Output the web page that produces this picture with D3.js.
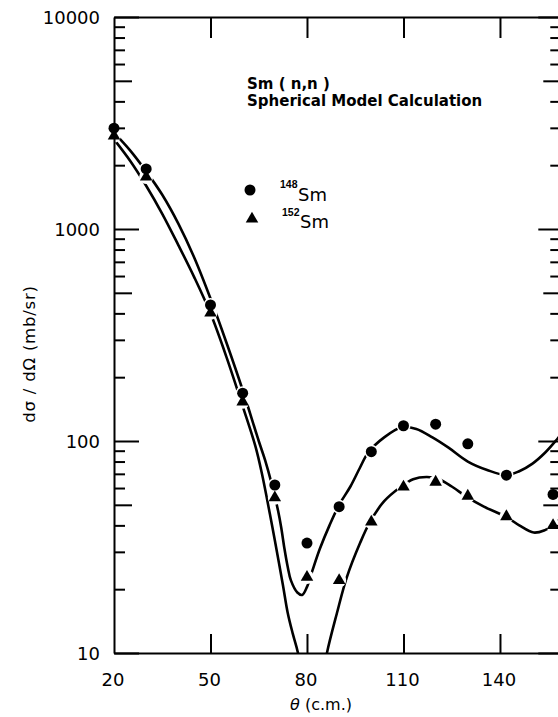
<!DOCTYPE html>
<html>
<head>
<meta charset="utf-8">
<script src="https://cdn.jsdelivr.net/npm/d3@7"></script>
<style>
  body { margin: 0; background: #fff; }
  svg { display: block; font-family: "DejaVu Sans", sans-serif; }
  .axis .domain, .axis line { stroke: #000; stroke-width: 2; }
</style>
</head>
<body>
<svg id="chart" width="558" height="717"></svg>
<script>
// measured points, 148Sm (circles) and 152Sm (triangles)
const thetaCircles = [20, 30, 50, 60, 70, 80, 90, 100, 110, 120, 130, 142, 156.5]
const valueCircles = [2990, 1920, 438, 168, 62, 33, 49, 89, 118, 120, 97, 69, 56]
const thetaTriangles = [20, 30, 50, 60, 70, 80, 90, 100, 110, 120, 130, 142, 156.5]
const valueTriangles = [2750, 1760, 402, 153, 54, 22.8, 22, 41.5, 60.7, 64, 55, 44, 40]

// spherical model curves
const theta148 = [20, 25, 30, 35, 40, 45, 50, 55, 60, 65, 67, 69, 71, 72, 73, 74, 75, 77, 78.5, 80, 81.5, 84, 87, 90, 93.5, 96.5, 99, 104, 109.5, 114, 119, 124, 130, 136, 142, 146, 150, 154, 158, 160]
const curve148 = [2850, 2350, 1870, 1450, 1060, 730, 470, 290, 174, 100, 81, 63, 47, 39, 31, 25.5, 22, 19.3, 18.8, 20.5, 24, 31, 40, 50, 61, 75, 88, 104, 116, 114, 104, 93, 80, 73, 69, 72, 78, 88, 103, 112]
const theta152 = [20, 25, 30, 35, 40, 45, 50, 55, 60, 64, 66, 68.5, 70, 72.5, 74, 75.6, 77.2, 79, 81.5, 84, 86.2, 89.3, 92.4, 96.5, 99.6, 104, 109, 113, 117.3, 121, 125, 129.7, 135, 142, 146, 150.5, 154, 156.5, 160]
const curve152 = [2650, 2100, 1600, 1180, 840, 590, 400, 248, 146, 94, 70, 45, 34, 21, 15.5, 12.3, 10, 6.5, 4, 6.5, 10, 15.4, 22.8, 33, 41.5, 52, 60.5, 66, 67.6, 66, 61, 54.5, 49, 43.8, 40, 37, 38, 40, 45]

const xTicks = [20, 50, 80, 110, 140]
const xTickLabels = ["20", "50", "80", "110", "140"]
const yTicks = [10, 100, 1000, 10000]
const yTickLabels = ["10", "100", "1000", "10000"]
const minorMultipliers = [2, 3, 4, 6, 7, 8, 9]

const svg = d3.select("#chart")
const x = d3.scaleLinear().domain([20, 160]).range([114, 564.3])
const y = d3.scaleLog().domain([10, 10000]).range([653, 17])

// curves
svg.append("clipPath").attr("id", "plot")
	.append("rect")
	.attr("x", x(20)).attr("y", y(10000))
	.attr("width", x(160) - x(20)).attr("height", y(10) - y(10000))

const line = d3.line().curve(d3.curveCatmullRom.alpha(0.5))
const curves = [
	theta148.map((t, i) => [x(t), y(curve148[i])]),
	theta152.map((t, i) => [x(t), y(curve152[i])])
]
svg.append("g").attr("clip-path", "url(#plot)")
	.selectAll("path").data(curves).join("path")
	.attr("d", line)
	.attr("fill", "none")
	.attr("stroke", "#000")
	.attr("stroke-width", 2.6)

// markers with white halo so the curves look broken around them
const pts = [
	...thetaCircles.map((t, i) => ({ t, v: valueCircles[i], s: "c" })),
	...thetaTriangles.map((t, i) => ({ t, v: valueTriangles[i], s: "t" }))
]
const mk = svg.append("g")
mk.selectAll("circle.halo").data(pts).join("circle")
	.attr("class", "halo")
	.attr("cx", d => x(d.t)).attr("cy", d => y(d.v))
	.attr("r", 7).attr("fill", "#fff")
mk.selectAll("circle.dot").data(pts.filter(d => d.s === "c")).join("circle")
	.attr("class", "dot")
	.attr("cx", d => x(d.t)).attr("cy", d => y(d.v))
	.attr("r", 5.5).attr("fill", "#000")
const tri = d3.symbol(d3.symbolTriangle, 68)
mk.selectAll("path.tri").data(pts.filter(d => d.s === "t")).join("path")
	.attr("class", "tri")
	.attr("transform", d => `translate(${x(d.t)},${y(d.v)})`)
	.attr("d", tri).attr("fill", "#000")

const decades = yTicks.slice(0, 3)
const minorTicks = decades.flatMap(d => minorMultipliers.map(m => d * m))
const fiveTicks = decades.map(d => d * 5)

// left and right axes: three tick lengths each, drawn over the markers
function yAxisSet(axisFn, xPos, sizes) {
	const g = svg.append("g").attr("class", "axis").attr("transform", `translate(${xPos},0)`)
	g.call(axisFn(y).tickValues(minorTicks).tickSize(sizes[0]).tickSizeOuter(0).tickFormat(""))
	const g2 = svg.append("g").attr("class", "axis").attr("transform", `translate(${xPos},0)`)
	g2.call(axisFn(y).tickValues(fiveTicks).tickSize(sizes[1]).tickSizeOuter(0).tickFormat(""))
	g2.select(".domain").remove()
	const g3 = svg.append("g").attr("class", "axis").attr("transform", `translate(${xPos},0)`)
	g3.call(axisFn(y).tickValues(yTicks).tickSize(sizes[2]).tickSizeOuter(0).tickFormat(""))
	g3.select(".domain").remove()
}
yAxisSet(d3.axisRight, x(20), [11, 18, 25])
yAxisSet(d3.axisLeft, x(160), [14, 21, 26])

svg.append("g").attr("class", "axis")
	.attr("transform", `translate(0,${y(10000)})`)
	.call(d3.axisBottom(x).tickValues(xTicks.slice(1)).tickSize(21).tickSizeOuter(0).tickFormat(""))
svg.append("g").attr("class", "axis")
	.attr("transform", `translate(0,${y(10)})`)
	.call(d3.axisTop(x).tickValues(xTicks.slice(1)).tickSize(19).tickSizeOuter(0).tickFormat(""))

// tick labels
svg.selectAll("text.ylab").data(yTicks).join("text")
	.attr("class", "ylab")
	.attr("x", 100)
	.attr("y", d => y(d) + 6.5)
	.attr("text-anchor", "end")
	.attr("font-size", 18)
	.text((d, i) => yTickLabels[i])
svg.selectAll("text.xlab").data(xTicks).join("text")
	.attr("class", "xlab")
	.attr("x", d => x(d) - 1)
	.attr("y", 686)
	.attr("text-anchor", "middle")
	.attr("font-size", 18)
	.text((d, i) => xTickLabels[i])

// axis titles
svg.append("text")
	.attr("transform", "translate(35,354) rotate(-90)")
	.attr("text-anchor", "middle")
	.attr("font-size", 16.5)
	.attr("letter-spacing", 0.8)
	.text("dσ / dΩ  (mb/sr)")
const xt = svg.append("text")
	.attr("x", 321).attr("y", 710)
	.attr("text-anchor", "middle")
	.attr("font-size", 16)
xt.append("tspan").attr("font-style", "italic").text("θ")
xt.append("tspan").text(" (c.m.)")

// annotation
svg.append("text").attr("x", 247).attr("y", 89)
	.attr("font-size", 15).attr("font-weight", 600)
	.text("Sm ( n,n )")
svg.append("text").attr("x", 247).attr("y", 106)
	.attr("font-size", 15).attr("font-weight", 600)
	.text("Spherical Model Calculation")

// legend
svg.append("circle").attr("cx", 250).attr("cy", 190).attr("r", 5.5).attr("fill", "#000")
svg.append("path").attr("transform", "translate(252,219)").attr("d", tri).attr("fill", "#000")
const legend = [["148", 280, 188, 298, 201], ["152", 282, 216, 300, 228]]
legend.forEach(([iso, sx, sy, tx, ty]) => {
	svg.append("text").attr("x", sx).attr("y", sy)
		.attr("font-family", "Liberation Sans, sans-serif")
		.attr("font-size", 10.5).attr("font-weight", "bold").text(iso)
	svg.append("text").attr("x", tx).attr("y", ty).attr("font-size", 18).text("Sm")
})
</script>
</body>
</html>
